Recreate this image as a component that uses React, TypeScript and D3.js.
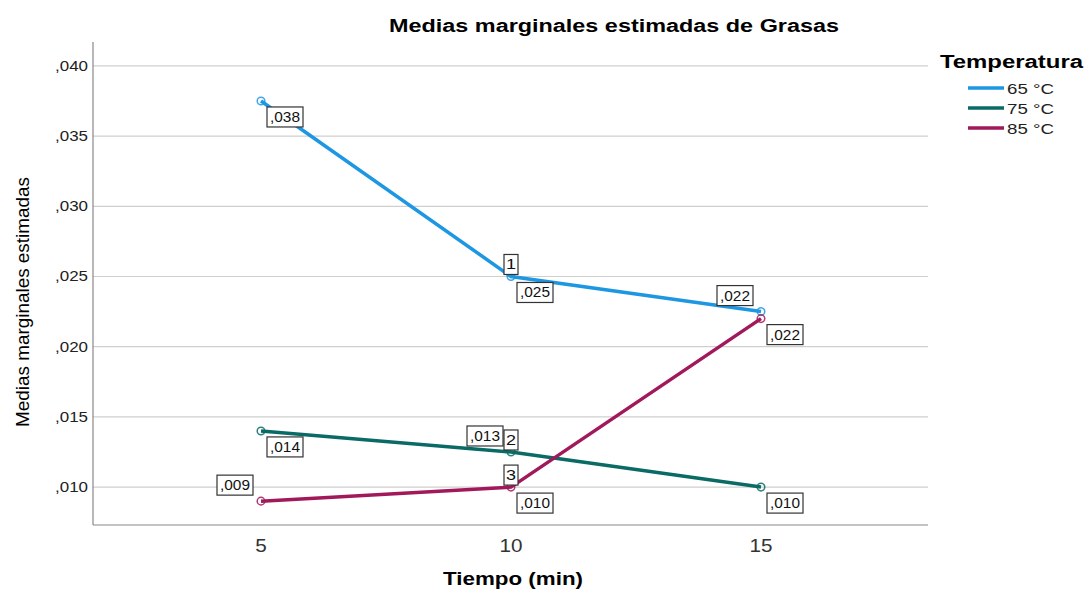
import React from "react";
import * as d3 from "d3";

const times = [5, 10, 15];
const seriesNames = ["65 °C", "75 °C", "85 °C"];
const values65 = [0.0375, 0.025, 0.0225];
const values75 = [0.014, 0.0125, 0.01];
const values85 = [0.009, 0.01, 0.022];
const valueLabels65 = [",038", ",025", ",022"];
const valueLabels75 = [",014", ",013", ",010"];
const valueLabels85 = [",009", ",010", ",022"];
const footnotes = [
  { series: 0, index: 1, text: "1" },
  { series: 1, index: 1, text: "2" },
  { series: 2, index: 1, text: "3" },
];
const yTicks = [0.01, 0.015, 0.02, 0.025, 0.03, 0.035, 0.04];
const yTickLabels = [",010", ",015", ",020", ",025", ",030", ",035", ",040"];
const xTicks = [5, 10, 15];

const colors = ["#1e97e3", "#0a6b66", "#a2195b"];
// label placement: "br" below-right, "tl" above-left
const placement = [
  ["br", "br", "tl"],
  ["br", "tl", "br"],
  ["tl", "br", "br"],
];

export default function App() {
  const W = 1087, H = 595;
  const left = 93, right = 928, top = 42, bottom = 525;
  const x = d3.scaleLinear().domain([1.64, 18.34]).range([left, right]);
  const y = d3.scaleLinear().domain([0.0073, 0.0417]).range([bottom, top]);
  const series = [values65, values75, values85];
  const labels = [valueLabels65, valueLabels75, valueLabels85];
  const line = d3.line<number>().x((_, i) => x(times[i])).y((d) => y(d));
  const font = "'Liberation Sans', Arial, sans-serif";
  const adj = "spacingAndGlyphs";

  return (
    <svg width={W} height={H} style={{ position: "absolute", left: 0, top: 0, background: "#fff" }} fontFamily={font}>
      <rect width={W} height={H} fill="#fff" />
      <text x={389} y={32} fontWeight="bold" fontSize={18} textLength={450} lengthAdjust={adj}>
        Medias marginales estimadas de Grasas
      </text>
      {yTicks.map((t, i) => (
        <g key={i}>
          <line x1={left} x2={right} y1={y(t)} y2={y(t)} stroke="#cfcfcf" strokeWidth={1.2} />
          <text x={55} y={y(t) + 5} fontSize={14} fill="#222" textLength={33} lengthAdjust={adj}>
            {yTickLabels[i]}
          </text>
        </g>
      ))}
      <line x1={left} x2={left} y1={top} y2={bottom} stroke="#888" strokeWidth={1.2} />
      <line x1={left} x2={right} y1={bottom} y2={bottom} stroke="#888" strokeWidth={1.2} />
      {xTicks.map((t, i) => {
        const w = String(t).length * 11.5;
        return (
          <text key={i} x={x(t) - w / 2} y={552} fontSize={18} fill="#333" textLength={w} lengthAdjust={adj}>
            {t}
          </text>
        );
      })}
      <text x={443} y={585} fontWeight="bold" fontSize={19} textLength={140} lengthAdjust={adj}>
        Tiempo (min)
      </text>
      <text
        transform={`translate(29,427) rotate(-90)`}
        fontSize={19}
        textLength={250}
        lengthAdjust={adj}
      >
        Medias marginales estimadas
      </text>
      {series.map((vals, s) => (
        <g key={s}>
          <path d={line(vals) || ""} fill="none" stroke={colors[s]} strokeWidth={3.5} />
          {vals.map((v, i) => (
            <circle key={i} cx={x(times[i])} cy={y(v)} r={3.8} fill="none" stroke={colors[s]} strokeWidth={1.5} opacity={0.85} />
          ))}
        </g>
      ))}
      {series.map((vals, s) =>
        vals.map((v, i) => {
          const px = x(times[i]), py = y(v);
          const p = placement[s][i];
          const bw = 36, bh = 20;
          const bx = p === "br" ? px + 6 : px - 44;
          const by = p === "br" ? py + 6 : py - 26;
          return (
            <g key={`${s}-${i}`}>
              <rect x={bx} y={by} width={bw} height={bh} fill="#fff" stroke="#333" strokeWidth={1.2} />
              <text x={bx + 3} y={by + 15} fontSize={15} fill="#111" textLength={30} lengthAdjust={adj}>
                {labels[s][i]}
              </text>
            </g>
          );
        })
      )}
      {footnotes.map((f, k) => {
        const px = x(times[f.index]), py = y(series[f.series][f.index]);
        return (
          <g key={k}>
            <rect x={px - 7} y={py - 22} width={14} height={20} fill="#fff" stroke="#333" strokeWidth={1.2} />
            <text x={px - 5} y={py - 7} fontSize={15} fill="#111" textLength={10} lengthAdjust={adj}>
              {f.text}
            </text>
          </g>
        );
      })}
      <text x={940} y={68} fontWeight="bold" fontSize={18} textLength={143} lengthAdjust={adj}>
        Temperatura
      </text>
      {seriesNames.map((n, i) => (
        <g key={i}>
          <line x1={968} x2={1004} y1={88 + i * 20} y2={88 + i * 20} stroke={colors[i]} strokeWidth={3.5} />
          <text x={1007} y={94 + i * 20} fontSize={15} fill="#222" textLength={47} lengthAdjust={adj}>
            {n}
          </text>
        </g>
      ))}
    </svg>
  );
}
